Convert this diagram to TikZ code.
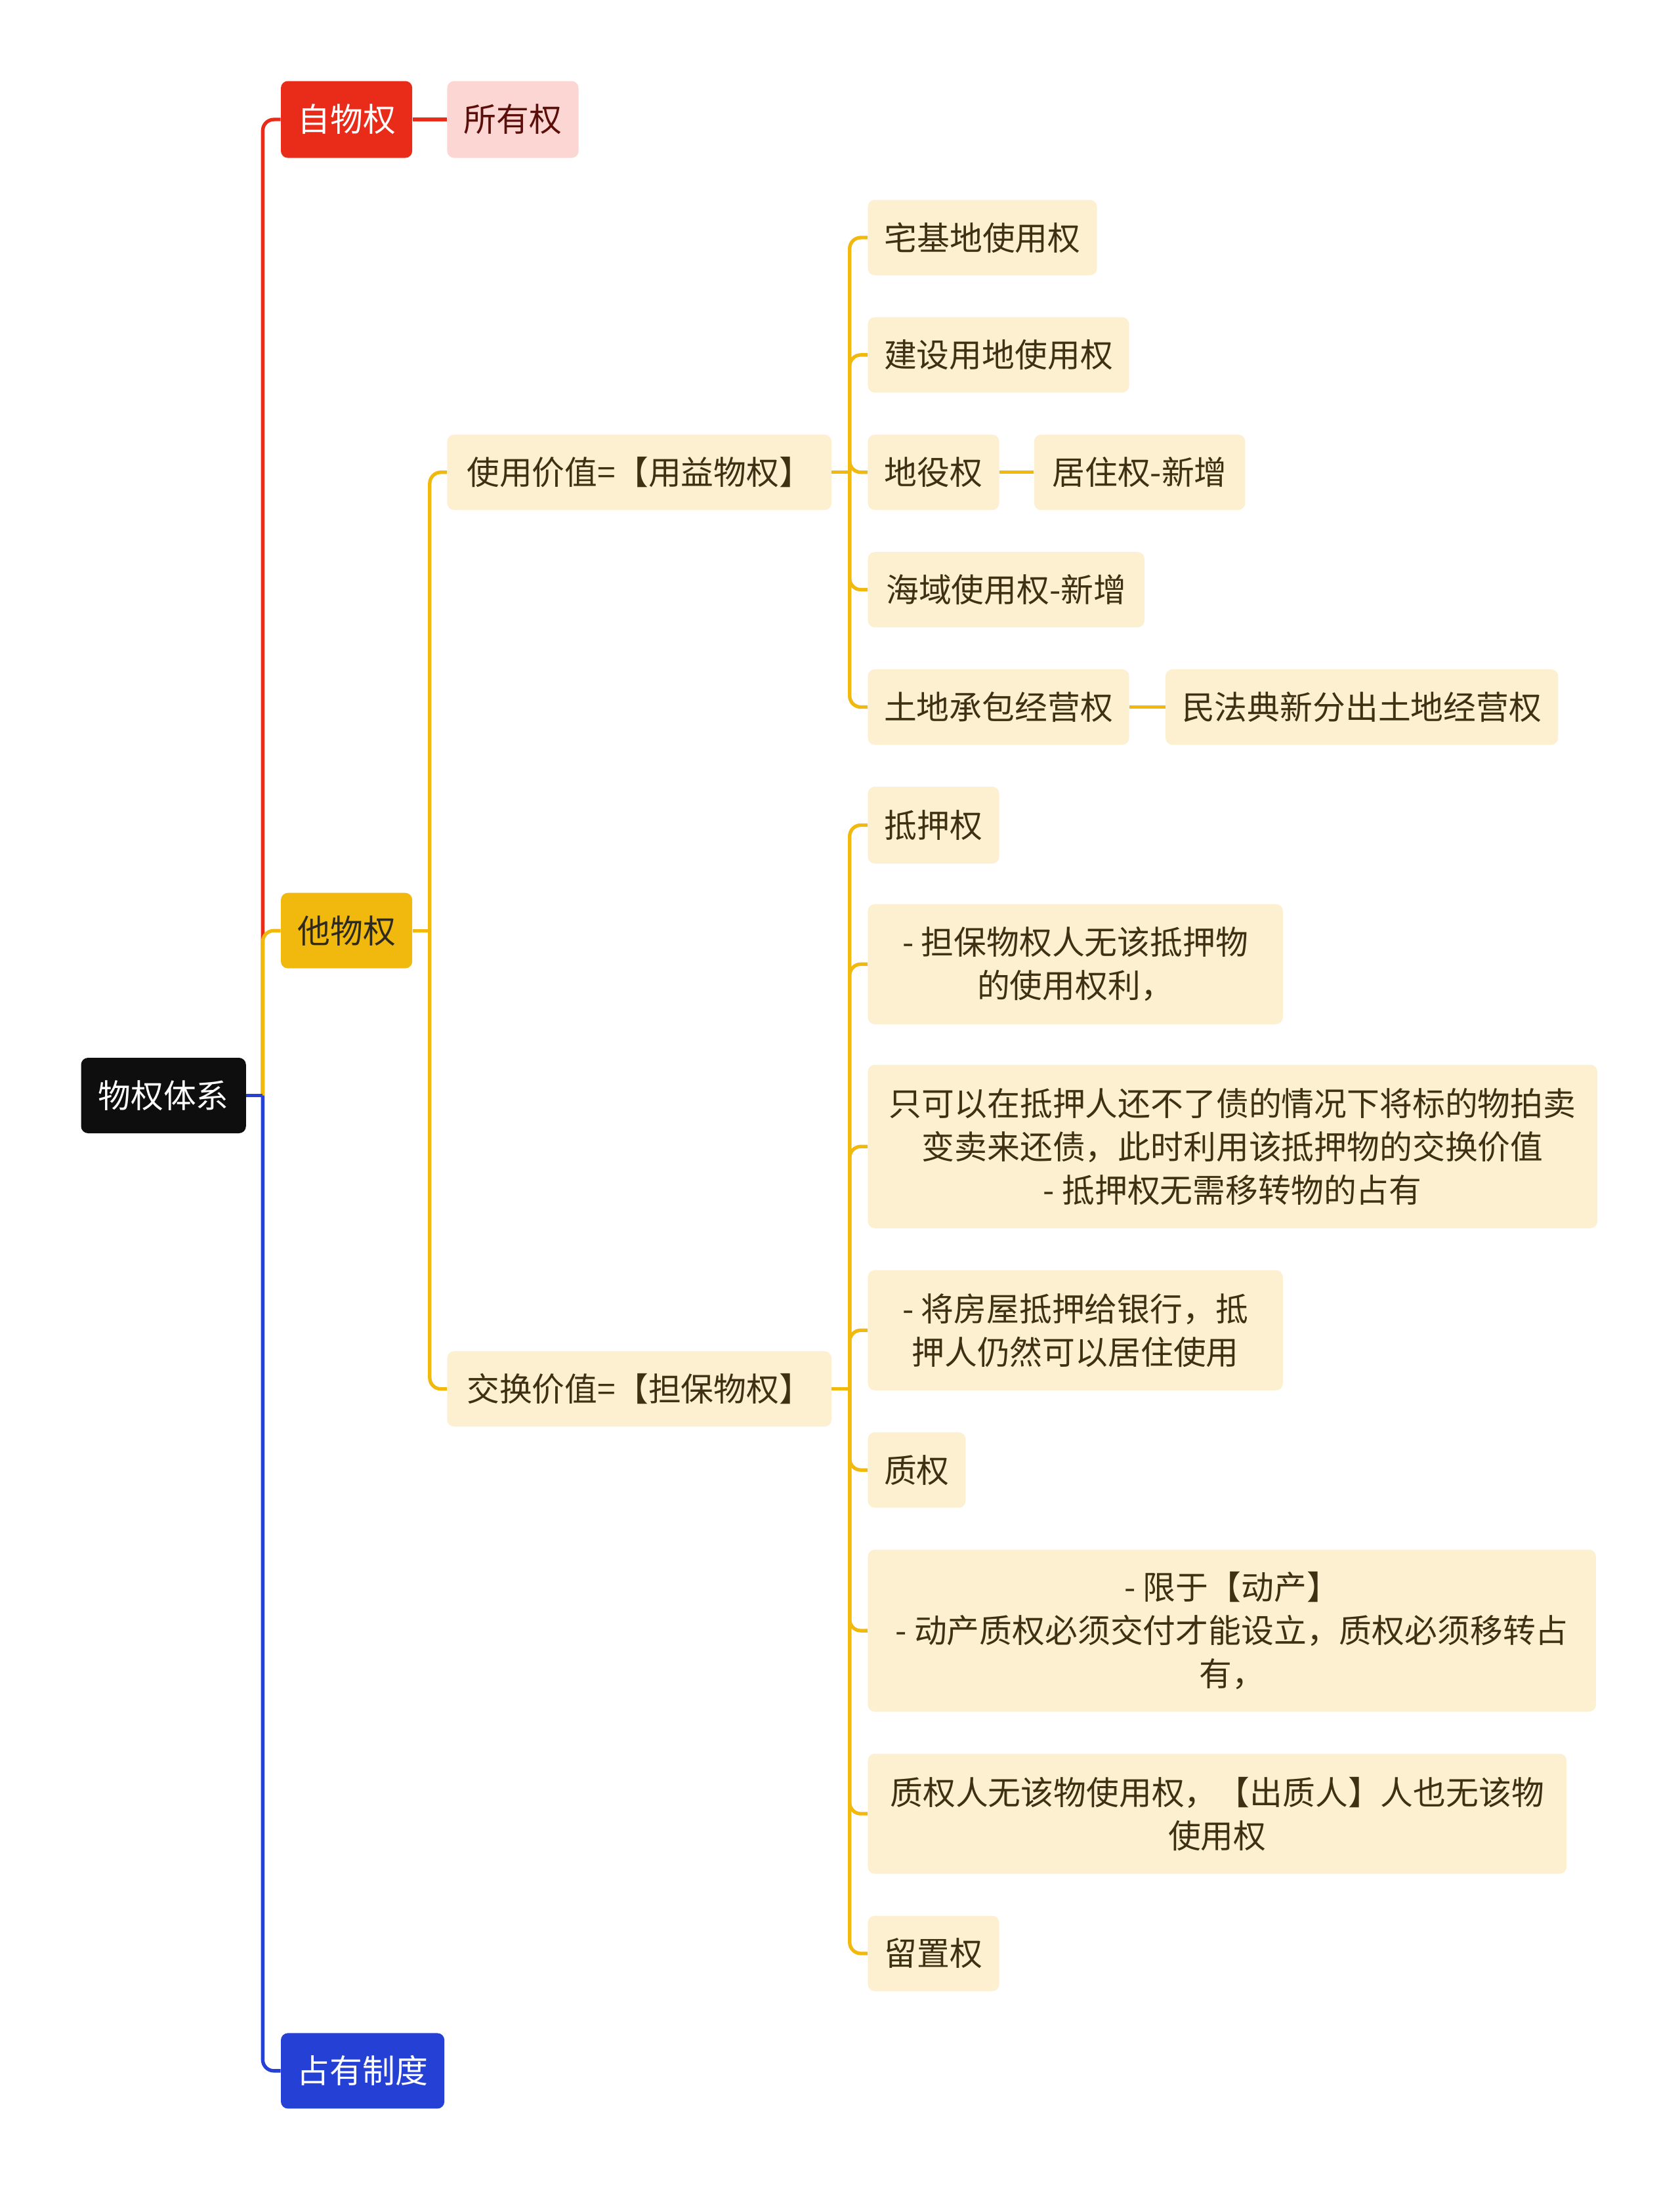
\documentclass[tikz,border=0pt]{standalone}
\usepackage{fontspec}
\newfontfamily\cjk{Noto Sans CJK SC}
\definecolor{rootc}{HTML}{0E0E0E}
\definecolor{redc}{HTML}{E92B1A}
\definecolor{pinkc}{HTML}{FCD6D2}
\definecolor{pinktext}{HTML}{5C0F0A}
\definecolor{yellowc}{HTML}{F1B90E}
\definecolor{yellowtext}{HTML}{2F2B1C}
\definecolor{creamc}{HTML}{FCF0D1}
\definecolor{creamtext}{HTML}{3E3012}
\definecolor{bluec}{HTML}{2541D5}
\tikzset{
  box/.style={rounded corners=5pt, inner sep=0pt, align=center, font=\cjk\fontsize{23.4}{31}\selectfont},
  rootbox/.style={box, fill=rootc, text=white},
  redbox/.style={box, fill=redc, text=white},
  pinkbox/.style={box, fill=pinkc, text=pinktext},
  yellowbox/.style={box, fill=yellowc, text=yellowtext},
  creambox/.style={box, fill=creamc, text=creamtext},
  bluebox/.style={box, fill=bluec, text=white},
  redlink/.style={draw=redc, line width=2.5pt, rounded corners=8pt},
  yellowlink/.style={draw=yellowc, line width=2.5pt, rounded corners=8pt},
  bluelink/.style={draw=bluec, line width=2.5pt, rounded corners=8pt}
}
\begin{document}
\begin{tikzpicture}[x=1pt,y=-1pt]
\useasboundingbox (0,0) rectangle (1202,1568);
\node[rootbox, minimum width=118pt, minimum height=54pt] (root) at (117,784) {物权体系};
\node[redbox, minimum width=94pt, minimum height=55pt] (zwq) at (248,85.5) {自物权};
\node[pinkbox, minimum width=94pt, minimum height=55pt] (syq) at (367,85.5) {所有权};
\node[yellowbox, minimum width=94pt, minimum height=54pt] (twq) at (248,666) {他物权};
\node[bluebox, minimum width=117pt, minimum height=54pt] (zyzd) at (259.5,1482) {占有制度};
\node[creambox, minimum width=275pt, minimum height=54pt] (syjz) at (457.5,338) {使用价值=【用益物权】};
\node[creambox, minimum width=275pt, minimum height=54pt] (jhjz) at (457.5,994) {交换价值=【担保物权】};
\node[creambox, minimum width=164pt, minimum height=54pt] (zjd) at (703,170) {宅基地使用权};
\node[creambox, minimum width=187pt, minimum height=54pt] (jsyd) at (714.5,254) {建设用地使用权};
\node[creambox, minimum width=94pt, minimum height=54pt] (dyq) at (668,338) {地役权};
\node[creambox, minimum width=151pt, minimum height=54pt] (jzq) at (815.5,338) {居住权-新增};
\node[creambox, minimum width=198pt, minimum height=54pt] (hysy) at (720,422) {海域使用权-新增};
\node[creambox, minimum width=187pt, minimum height=54pt] (tdcb) at (714.5,506) {土地承包经营权};
\node[creambox, minimum width=281pt, minimum height=54pt] (mfd) at (974.5,506) {民法典新分出土地经营权};
\node[creambox, minimum width=94pt, minimum height=55pt] (dyaq) at (668,590.5) {抵押权};
\node[creambox, minimum width=297pt, minimum height=86pt] (dbwq) at (769.5,690) {- 担保物权人无该抵押物\\的使用权利，};
\node[creambox, minimum width=522pt, minimum height=117pt] (zky) at (882,820.5) {只可以在抵押人还不了债的情况下将标的物拍卖\\变卖来还债，此时利用该抵押物的交换价值\\- 抵押权无需移转物的占有};
\node[creambox, minimum width=297pt, minimum height=86pt] (jfw) at (769.5,952) {- 将房屋抵押给银行，抵\\押人仍然可以居住使用};
\node[creambox, minimum width=70pt, minimum height=54pt] (zq) at (656,1052) {质权};
\node[creambox, minimum width=521pt, minimum height=116pt] (xydc) at (881.5,1167) {- 限于【动产】\\- 动产质权必须交付才能设立，质权必须移转占\\有，};
\node[creambox, minimum width=500pt, minimum height=86pt] (zqr) at (871,1298) {质权人无该物使用权，【出质人】人也无该物\\使用权};
\node[creambox, minimum width=94pt, minimum height=54pt] (lzq) at (668,1398) {留置权};
\coordinate (rootbus) at (188,784);
\coordinate (twqbus) at (307.5,666);
\coordinate (syjzbus) at (608,338);
\coordinate (jhjzbus) at (608,994);
\draw[redlink] (root.east) -- (rootbus);
\draw[redlink] (rootbus) |- (zwq.west);
\draw[redlink] (zwq.east) -- (syq.west);
\draw[yellowlink] (rootbus) |- (twq.west);
\draw[bluelink] (root.east) -- (rootbus);
\draw[bluelink] (rootbus) |- (zyzd.west);
\draw[yellowlink] (twq.east) -- (twqbus);
\foreach \c in {syjz,jhjz} \draw[yellowlink] (twqbus) |- (\c.west);
\draw[yellowlink] (syjz.east) -- (syjzbus);
\foreach \c in {zjd,jsyd,dyq,hysy,tdcb} \draw[yellowlink] (syjzbus) |- (\c.west);
\draw[yellowlink] (dyq.east) -- (jzq.west);
\draw[yellowlink] (tdcb.east) -- (mfd.west);
\draw[yellowlink] (jhjz.east) -- (jhjzbus);
\foreach \c in {dyaq,dbwq,zky,jfw,zq,xydc,zqr,lzq} \draw[yellowlink] (jhjzbus) |- (\c.west);
\end{tikzpicture}
\end{document}
